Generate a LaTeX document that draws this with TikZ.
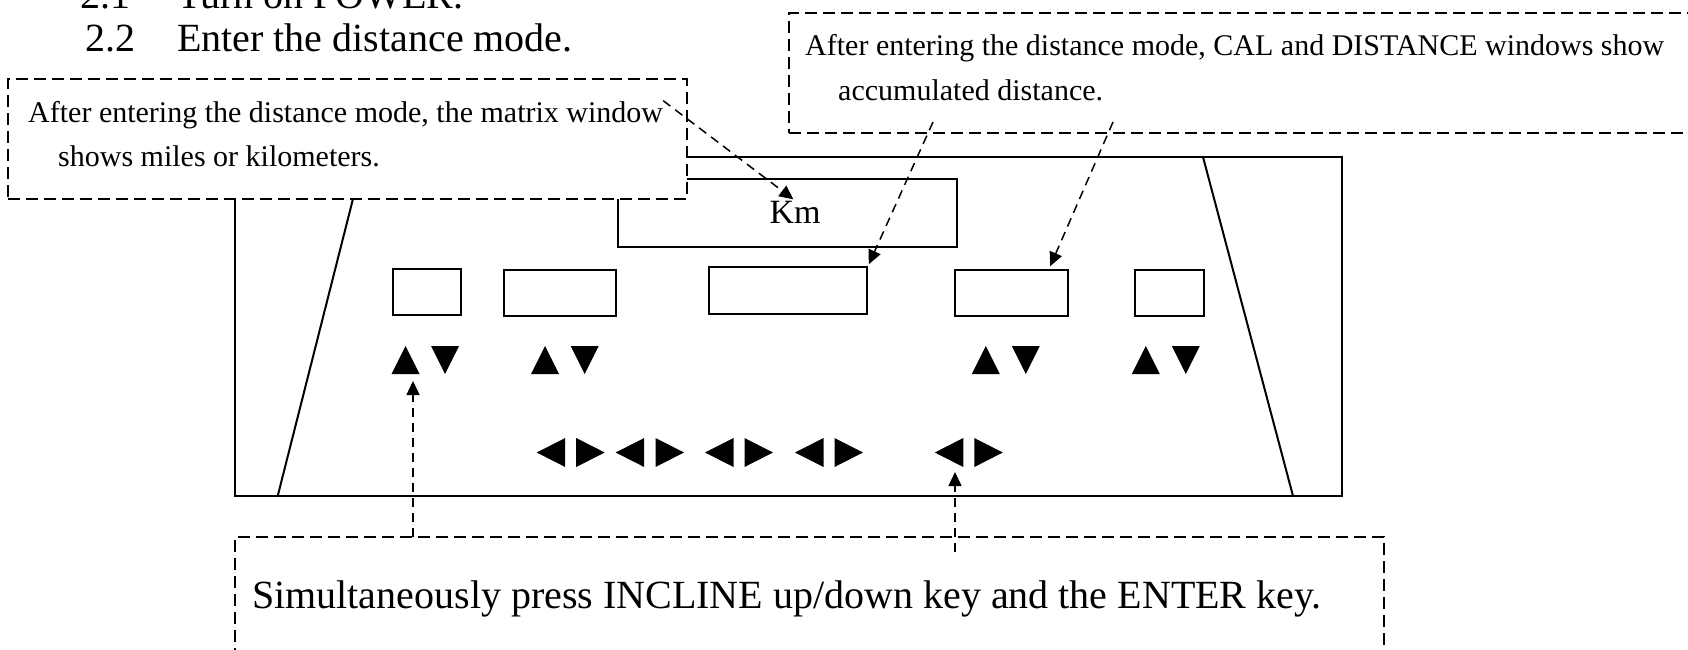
\documentclass[tikz,border=0pt]{standalone}
\usepackage{fontspec}
\setmainfont{Liberation Serif}
\usetikzlibrary{arrows.meta,calc}
\tikzset{
  panel/.style={draw, line width=2pt},
  winbox/.style={draw, line width=2pt, inner sep=0pt, minimum height=46pt},
  callbox/.style={draw, fill=white, line width=1.5pt, dash pattern=on 12pt off 6pt, inner sep=0pt},
  callarrow/.style={line width=1.5pt, dash pattern=on 9pt off 6pt, -{Triangle[length=14pt,width=13pt]}},
  bigtxt/.style={font=\fontsize{40}{48}\selectfont, inner sep=0pt, anchor=base west},
  smalltxt/.style={font=\fontsize{30}{36}\selectfont, inner sep=0pt, anchor=base west},
  tup/.pic={\fill (-14,14) -- (14,14) -- (0,-14) -- cycle;},
  tdn/.pic={\fill (-14,-14) -- (14,-14) -- (0,14) -- cycle;},
  tlf/.pic={\fill (14,-14.5) -- (14,14.5) -- (-14.5,0) -- cycle;},
  trt/.pic={\fill (-14,-14.5) -- (-14,14.5) -- (14.5,0) -- cycle;},
}
\begin{document}
\begin{tikzpicture}[x=1pt,y=-1pt]
\useasboundingbox (0,0) rectangle (1688,649);
\clip (0,0) rectangle (1688,649);
% console
\node[panel, inner sep=0pt, minimum width=1107pt, minimum height=339pt] (console) at (788,326.5) {};
\draw[panel] (363.6,157) -- (277.7,496);
\draw[panel] (1203,157) -- (1293,496);
\node[panel, inner sep=0pt, minimum width=339pt, minimum height=68pt] (kmbox) at (787.5,213) {};
\node[font=\fontsize{34}{40}\selectfont, inner sep=0pt, anchor=base] (km) at (795,223) {Km};
\node[winbox, minimum width=68pt] (w1) at (427,292) {};
\node[winbox, minimum width=112pt] (w2) at (560,293) {};
\node[winbox, minimum width=158pt, minimum height=47pt] (w3) at (788,290.5) {};
\node[winbox, minimum width=113pt] (w4) at (1011.5,293) {};
\node[winbox, minimum width=69pt] (w5) at (1169.5,293) {};
% keys
\pic at (405.5,360) {tup};
\pic at (445,360) {tdn};
\pic at (545,360) {tup};
\pic at (584.7,360) {tdn};
\pic at (985.8,360) {tup};
\pic at (1025.8,360) {tdn};
\pic at (1145.8,360) {tup};
\pic at (1185.8,360) {tdn};
\pic at (551.2,452.5) {tlf};
\pic at (590.2,452.5) {trt};
\pic at (630.2,452.5) {tlf};
\pic at (669.5,452.5) {trt};
\pic at (719.5,452.5) {tlf};
\pic at (758.5,452.5) {trt};
\pic at (809.5,452.5) {tlf};
\pic at (848.5,452.5) {trt};
\pic at (949.3,452.5) {tlf};
\pic at (988.3,452.5) {trt};
% callout boxes
\node[callbox, minimum width=679pt, minimum height=120pt] (boxL) at (347.5,139) {};
\node[callbox, minimum width=971pt, minimum height=120pt] (boxR) at (1274.5,73) {};
\node[callbox, minimum width=1149pt, minimum height=183pt] (boxB) at (809.5,628.5) {};
% texts
\node[bigtxt] (n21) at (80,8) {2.1};
\node[bigtxt] (s21) at (177,8) {Turn on POWER.};
\node[bigtxt] (n22) at (85,51) {2.2};
\node[bigtxt] (s22) at (177,51) {Enter the distance mode.};
\node[smalltxt] (l1) at (28,122) {After entering the distance mode, the matrix window};
\node[smalltxt] (l2) at (58,166) {shows miles or kilometers.};
\node[smalltxt] (r1) at (805,55) {After entering the distance mode, CAL and DISTANCE windows show};
\node[smalltxt] (r2) at (838,100) {accumulated distance.};
\node[bigtxt] (bt) at (252,608) {Simultaneously press INCLINE up/down key and the ENTER key.};
% connectors
\coordinate (rA) at (933,122);
\coordinate (rB) at (1113,122);
\coordinate (inclS) at (413,537);
\coordinate (inclT) at (413,381);
\coordinate (entS) at (955,552);
\coordinate (entT) at (955,472);
\draw[callarrow, shorten >=2pt] (l1.north east) -- (km.north);
\draw[callarrow, shorten >=2pt] (rA) -- (w3.north east);
\draw[callarrow, shorten >=3pt] (rB) -- ([xshift=-20pt]w4.north east);
\draw[callarrow] (inclS) -- (inclT);
\draw[callarrow] (entS) -- (entT);
\end{tikzpicture}
\end{document}
